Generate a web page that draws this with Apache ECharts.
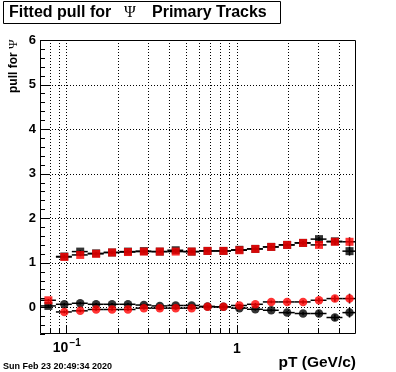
<!DOCTYPE html>
<html><head><meta charset="utf-8">
<script src="https://cdn.jsdelivr.net/npm/echarts@6/dist/echarts.min.js"></script>
<style>html,body{margin:0;padding:0;background:#fff}#c{width:396px;height:372px}</style>
</head><body><div id="c"></div>
<script>
// ---- data ----
const binEdges = [0.07, 0.0868, 0.1076, 0.1334, 0.1654, 0.2051, 0.2543, 0.3153, 0.3909, 0.4847, 0.601, 0.745, 0.924, 1.146, 1.421, 1.761, 2.184, 2.708, 3.357, 4.162, 5.0];
const binCenters = [0.0784, 0.0972, 0.1205, 0.1494, 0.1853, 0.2297, 0.2848, 0.3531, 0.4378, 0.5429, 0.673, 0.8345, 1.035, 1.2835, 1.591, 1.9725, 2.446, 3.0325, 3.7595, 4.581];
const blackSquares = [0.03, 1.14, 1.25, 1.21, 1.23, 1.25, 1.26, 1.25, 1.28, 1.25, 1.265, 1.265, 1.29, 1.31, 1.355, 1.40, 1.445, 1.53, 1.48, 1.26];
const redSquares   = [0.157, 1.13, 1.175, 1.20, 1.23, 1.24, 1.25, 1.25, 1.25, 1.25, 1.265, 1.265, 1.28, 1.31, 1.355, 1.40, 1.445, 1.40, 1.47, 1.47];
const blackCircles = [null, 0.067, 0.09, 0.067, 0.067, 0.067, 0.05, 0.03, 0.04, 0.04, 0.02, 0.01, -0.02, -0.045, -0.067, -0.12, -0.14, -0.14, -0.23, -0.12];
const redCircles   = [null, -0.105, -0.08, -0.05, -0.05, -0.05, -0.02, -0.02, -0.02, -0.02, 0.01, 0.01, 0.04, 0.067, 0.12, 0.12, 0.12, 0.157, 0.195, 0.195];
const squareErrors = [0.03, 0.03, 0.03, 0.03, 0.03, 0.03, 0.03, 0.03, 0.03, 0.03, 0.03, 0.03, 0.03, 0.03, 0.03, 0.03, 0.04, 0.05, 0.07, 0.1];
const circleErrors = [0.03, 0.03, 0.03, 0.03, 0.03, 0.03, 0.03, 0.03, 0.03, 0.03, 0.03, 0.03, 0.03, 0.03, 0.03, 0.03, 0.04, 0.05, 0.07, 0.11];
const yTickLabels = ['0', '1', '2', '3', '4', '5', '6'];
const xGridValues = [0.08, 0.09, 0.1, 0.2, 0.3, 0.4, 0.5, 0.6, 0.7, 0.8, 0.9, 1, 2, 3, 4];
const xMajorValues = [0.1, 1];
const titleParts = ['Fitted pull for', 'Ψ', 'Primary Tracks'];
const yTitleParts = ['pull for', 'Ψ'];
const xTitle = 'pT (GeV/c)';
const dateText = 'Sun Feb 23 20:49:34 2020';

const FONT = '"Liberation Sans", Arial, Helvetica, sans-serif';
const SERIF = '"Liberation Serif", "DejaVu Serif", serif';

function errData(vals, errs) {
  const out = [];
  vals.forEach((v, i) => { if (v != null) out.push([binCenters[i], v, binEdges[i], binEdges[i + 1], errs[i]]); });
  return out;
}
function markData(vals) {
  const out = [];
  vals.forEach((v, i) => { if (v != null) out.push([binCenters[i], v]); });
  return out;
}
function renderErr(params, api) {
  const y = api.value(1), e = api.value(4), c = api.value(0);
  const a = api.coord([api.value(2), y]);
  const b = api.coord([api.value(3), y]);
  const t = api.coord([c, y + e]);
  const u = api.coord([c, y - e]);
  const st = { stroke: '#000', lineWidth: 1.5 };
  return { type: 'group', children: [
    { type: 'line', shape: { x1: a[0], y1: a[1], x2: b[0], y2: b[1] }, style: st },
    { type: 'line', shape: { x1: t[0], y1: t[1], x2: u[0], y2: u[1] }, style: st }
  ]};
}
function renderDecor(params, api) {
  const cs = params.coordSys;
  const L = cs.x, T = cs.y, R = cs.x + cs.width, B = cs.y + cs.height;
  const ch = [];
  const dotted = { stroke: '#000', lineWidth: 1, lineDash: [1, 2] };
  const solid = { stroke: '#000', lineWidth: 1 };
  xGridValues.forEach(v => {
    const px = Math.round(api.coord([v, 0])[0]) + 0.5;
    ch.push({ type: 'line', shape: { x1: px, y1: T, x2: px, y2: B }, style: dotted });
    const major = xMajorValues.some(m => Math.abs(m - v) < 1e-9);
    const len = major ? 9 : 5;
    ch.push({ type: 'line', shape: { x1: px, y1: B, x2: px, y2: B - len }, style: solid });
  });
  for (let k = -3; k <= 30; k++) {
    const v = k / 5;
    const py = Math.round(api.coord([1, v])[1]) + 0.5;
    const major = k % 5 === 0;
    if (major && k >= 0 && k < 30) {
      ch.push({ type: 'line', shape: { x1: L, y1: py, x2: R, y2: py }, style: dotted });
    }
    ch.push({ type: 'line', shape: { x1: L, y1: py, x2: L + (major ? 9 : 5), y2: py }, style: solid });
  }
  yTickLabels.forEach((lab) => {
    const py = api.coord([1, Number(lab)])[1];
    ch.push({ type: 'text', x: L - 4, y: py, style: { text: lab, font: 'bold 13px ' + FONT, fill: '#000', align: 'right', verticalAlign: 'middle' } });
  });
  const p1 = api.coord([0.1, 0])[0];
  ch.push({ type: 'text', x: p1 + 2, y: B + 14, style: { text: '10', font: 'bold 14px ' + FONT, fill: '#000', align: 'right', verticalAlign: 'middle' } });
  ch.push({ type: 'text', x: p1 + 3, y: B + 9, style: { text: '−1', font: 'bold 10px ' + FONT, fill: '#000', align: 'left', verticalAlign: 'middle' } });
  const p2 = api.coord([1, 0])[0];
  ch.push({ type: 'text', x: p2, y: B + 15, style: { text: '1', font: 'bold 14px ' + FONT, fill: '#000', align: 'center', verticalAlign: 'middle' } });
  ch.push({ type: 'rect', shape: { x: Math.round(L) + 0.5, y: Math.round(T) + 0.5, width: Math.round(R - L) - 1, height: Math.round(B - T) - 1 }, style: { fill: 'none', stroke: '#000', lineWidth: 1 } });
  return { type: 'group', children: ch };
}

const chart = echarts.init(document.getElementById('c'), null, { renderer: 'canvas' });
chart.setOption({
  animation: false,
  backgroundColor: '#fff',
  grid: { left: 40, right: 40, top: 40, bottom: 38, containLabel: false },
  xAxis: { type: 'log', logBase: 10, min: 0.07, max: 5, axisLine: { show: false }, axisTick: { show: false }, axisLabel: { show: false }, splitLine: { show: false } },
  yAxis: { type: 'value', min: -0.6, max: 6, axisLine: { show: false }, axisTick: { show: false }, axisLabel: { show: false }, splitLine: { show: false } },
  graphic: [
    { type: 'rect', shape: { x: 3.5, y: 1.5, width: 277, height: 22 }, style: { fill: '#fff', stroke: '#000', lineWidth: 1 } },
    { type: 'text', x: 9, y: 13, style: { text: titleParts[0], font: 'bold 16px ' + FONT, fill: '#000', verticalAlign: 'middle' } },
    { type: 'text', x: 130, y: 13, style: { text: titleParts[1], font: '16px ' + SERIF, fill: '#000', align: 'center', verticalAlign: 'middle' } },
    { type: 'text', x: 152, y: 13, style: { text: titleParts[2], font: 'bold 16px ' + FONT, fill: '#000', verticalAlign: 'middle' } },
    { type: 'group', x: 14, y: 93, rotation: Math.PI / 2, children: [
      { type: 'text', x: 0, y: 0, style: { text: yTitleParts[0], font: 'bold 12px ' + FONT, fill: '#000', verticalAlign: 'middle' } },
      { type: 'text', x: 44, y: 0, style: { text: yTitleParts[1], font: '13px ' + SERIF, fill: '#000', verticalAlign: 'middle' } }
    ]},
    { type: 'text', x: 356, y: 363, style: { text: xTitle, font: 'bold 15.5px ' + FONT, fill: '#000', align: 'right', verticalAlign: 'middle' } },
    { type: 'text', x: 3, y: 367, style: { text: dateText, font: 'bold 9px ' + FONT, fill: '#000', verticalAlign: 'middle' } }
  ],
  series: [
    { type: 'custom', data: [[1, 0]], renderItem: renderDecor, silent: true, z: 1 },
    { type: 'custom', data: errData(blackSquares, squareErrors), renderItem: renderErr, z: 2 },
    { type: 'scatter', data: markData(blackSquares), symbol: 'rect', symbolSize: 8, itemStyle: { color: '#000' }, z: 2 },
    { type: 'custom', data: errData(redSquares, squareErrors), renderItem: renderErr, z: 2 },
    { type: 'scatter', data: markData(redSquares), symbol: 'rect', symbolSize: 8, itemStyle: { color: '#ff0000' }, z: 2 },
    { type: 'custom', data: errData(blackCircles, circleErrors), renderItem: renderErr, z: 2 },
    { type: 'scatter', data: markData(blackCircles), symbol: 'circle', symbolSize: 8.5, itemStyle: { color: '#000' }, z: 2 },
    { type: 'custom', data: errData(redCircles, circleErrors), renderItem: renderErr, z: 2 },
    { type: 'scatter', data: markData(redCircles), symbol: 'circle', symbolSize: 8.5, itemStyle: { color: '#ff0000' }, z: 2 }
  ]
});
</script></body></html>
